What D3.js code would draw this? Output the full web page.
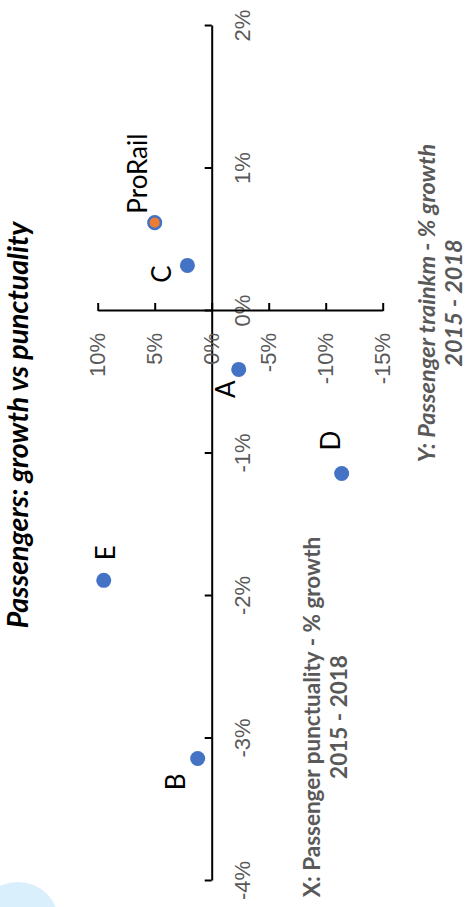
<!DOCTYPE html>
<html lang="en">
  <head>
    <meta charset="utf-8">
    <style type="text/css">
      body {
        margin: 0;
        background: white;
      }
      svg {
        display: block;
        font-family: Lato, "Open Sans", sans-serif;
      }
      .axis path, .axis line {
        stroke: black;
        stroke-width: 2px;
      }
      .axis text {
        fill: #595959;
        font-size: 22px;
      }
    </style>
  </head>
  <body>
    <script src="https://cdn.jsdelivr.net/npm/d3@7"></script>
    <svg id="chart"></svg>

    <script type="text/javascript">
var names = ["ProRail", "A", "B", "C", "D", "E"];
var punctuality = [0.0062, -0.0041, -0.0314, 0.0032, -0.0114, -0.0189];
var trainkm = [0.050, -0.0237, 0.0123, 0.0213, -0.114, 0.0947];

var xTicks = [-0.04, -0.03, -0.02, -0.01, 0, 0.01, 0.02];
var yTicks = [-0.15, -0.10, -0.05, 0, 0.05, 0.10];

var title = "Passengers: growth vs punctuality";
var xTitle = ["X: Passenger punctuality - % growth", "2015 - 2018"];
var yTitle = ["Y: Passenger trainkm - % growth", "2015 - 2018"];

// the chart is drawn in its own (wide) frame and turned a quarter to the left
var pageW = 467, pageH = 907;

var svg = d3.select("#chart")
  .attr("width", pageW)
  .attr("height", pageH);

svg.append("rect")
  .attr("width", pageW)
  .attr("height", pageH)
  .attr("fill", "white");

var g = svg.append("g")
  .attr("transform", "translate(0," + pageH + ") rotate(-90)");

g.append("circle")
  .attr("cx", -16)
  .attr("cy", 18)
  .attr("r", 41)
  .attr("fill", "#d9effc");

var x = d3.scaleLinear().domain([-0.04, 0.02]).range([26, 881]);
var y = d3.scaleLinear().domain([-0.15, 0.10]).range([382.7, 97.7]);

var pct = function(d) { return Math.round(d * 100) + "%"; };

// x axis: ticks on one side, labels on the other
g.append("g")
  .attr("class", "axis")
  .attr("transform", "translate(0," + y(0) + ")")
  .call(d3.axisTop(x).tickValues(xTicks).tickSize(7).tickSizeOuter(0).tickFormat(""));

g.append("g")
  .attr("class", "axis")
  .attr("transform", "translate(0," + y(0) + ")")
  .call(d3.axisBottom(x).tickValues(xTicks).tickSize(0).tickPadding(23).tickFormat(pct))
  .call(function(a) { a.select(".domain").remove(); });

// y axis
g.append("g")
  .attr("class", "axis")
  .attr("transform", "translate(" + x(0) + ",0)")
  .call(d3.axisRight(y).tickValues(yTicks).tickSize(8).tickSizeOuter(0).tickFormat(""));

g.append("g")
  .attr("class", "axis")
  .attr("transform", "translate(" + x(0) + ",0)")
  .call(d3.axisLeft(y).tickValues(yTicks).tickSize(0).tickPadding(22).tickFormat(pct))
  .call(function(a) { a.select(".domain").remove(); });

g.selectAll(".axis text").attr("font-family", null).attr("font-size", null);

var points = names.map(function(n, i) {
  return { name: n, px: punctuality[i], ty: trainkm[i] };
});

g.append("g").selectAll("circle")
  .data(points)
  .enter()
  .append("circle")
  .attr("cx", function(d) { return x(d.px); })
  .attr("cy", function(d) { return y(d.ty); })
  .attr("r", function(d) { return d.name == "ProRail" ? 6.3 : 7.5; })
  .attr("fill", function(d) { return d.name == "ProRail" ? "#ed7d31" : "#4472c4"; })
  .attr("stroke", "#4472c4")
  .attr("stroke-width", function(d) { return d.name == "ProRail" ? 2.5 : 0; });

// where each point label sits
var place = {
  ProRail: { anchor: "start", dx: 9, dy: -8 },
  A: { anchor: "end", dx: -11, dy: -4 },
  B: { anchor: "end", dx: -15, dy: -13 },
  C: { anchor: "end", dx: 0, dy: -16 },
  D: { anchor: "start", dx: 23, dy: -2 },
  E: { anchor: "start", dx: 20, dy: 11 },
};

g.append("g").selectAll("text")
  .data(points)
  .enter()
  .append("text")
  .attr("x", function(d) { return x(d.px) + place[d.name].dx; })
  .attr("y", function(d) { return y(d.ty) + place[d.name].dy; })
  .attr("text-anchor", function(d) { return place[d.name].anchor; })
  .style("font-size", "26px")
  .style("fill", "black")
  .text(function(d) { return d.name; });

g.append("text")
  .attr("x", 482)
  .attr("y", 28)
  .attr("text-anchor", "middle")
  .style("font-size", "28.5px")
  .style("font-weight", "bold")
  .style("font-style", "italic")
  .style("fill", "black")
  .text(title);

g.append("g").selectAll("text")
  .data(xTitle)
  .enter()
  .append("text")
  .attr("x", 190)
  .attr("y", function(d, i) { return 320 + i * 27; })
  .attr("text-anchor", "middle")
  .style("font-size", "22.5px")
  .style("font-weight", "bold")
  .style("fill", "#595959")
  .text(function(d) { return d; });

g.append("g").selectAll("text")
  .data(yTitle)
  .enter()
  .append("text")
  .attr("x", 604)
  .attr("y", function(d, i) { return 435 + i * 27; })
  .attr("text-anchor", "middle")
  .style("font-size", "23.5px")
  .style("font-weight", "bold")
  .style("font-style", "italic")
  .style("fill", "#595959")
  .text(function(d) { return d; });
    </script>
  </body>
</html>
